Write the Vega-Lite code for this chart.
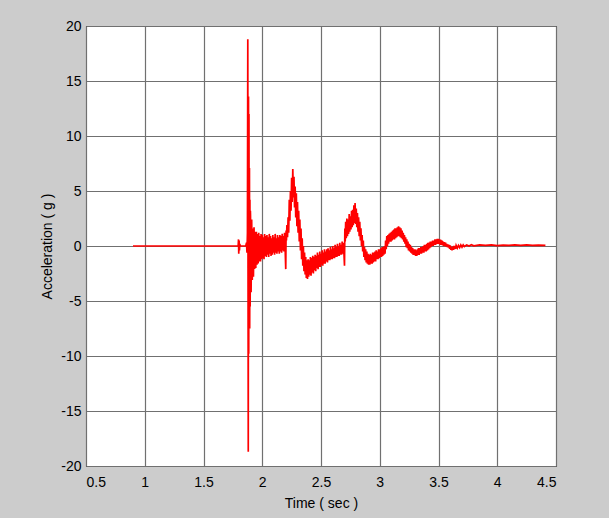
{
  "$schema": "https://vega.github.io/schema/vega-lite/v6.json",
  "width": 470,
  "height": 440,
  "autosize": {"type": "none"},
  "padding": {"left": 86, "top": 26, "right": 53, "bottom": 52},
  "background": "#cccccc",
  "config": {
    "view": {"fill": "white", "stroke": "black", "strokeWidth": 1},
    "font": "Liberation Sans",
    "axis": {
      "labelFont": "Liberation Sans",
      "titleFont": "Liberation Sans",
      "labelFontSize": 14,
      "titleFontSize": 14,
      "labelColor": "black",
      "titleColor": "black",
      "titleFontWeight": "normal",
      "ticks": false,
      "domain": false,
      "gridColor": "#707070",
      "gridWidth": 1.2,
      "gridOpacity": 1
    }
  },
  "data": {"values": [
    {"t":0.9,"a":0},{"t":1.79,"a":0},{"t":1.795,"a":0},{"t":1.798,"a":0.6},{"t":1.8,"a":-0.7},{"t":1.803,"a":0.5},{"t":1.806,"a":-0.4},{"t":1.809,"a":0.2},{"t":1.812,"a":0},{"t":1.86,"a":0},{"t":1.866,"a":0.3},{"t":1.87,"a":-0.6},{"t":1.874,"a":1.2},{"t":1.877,"a":18.8},{"t":1.879,"a":-2},{"t":1.881,"a":-18.7},{"t":1.883,"a":13.6},{"t":1.885,"a":-9.8},{"t":1.887,"a":12},{"t":1.889,"a":-6.8},{"t":1.891,"a":7.1},{"t":1.893,"a":-7.5},{"t":1.895,"a":4.2},{"t":1.897,"a":-5.5},{"t":1.899,"a":3.2},
    {"t":1.9,"a":2.8},{"t":1.905,"a":-4.2},{"t":1.91,"a":2.4},{"t":1.915,"a":-3.1},{"t":1.92,"a":1.6},{"t":1.925,"a":-2.8},{"t":1.93,"a":1.7},{"t":1.935,"a":-2.1},{"t":1.94,"a":1.3},{"t":1.945,"a":-2.0},{"t":1.95,"a":1.3},{"t":1.955,"a":-1.7},{"t":1.96,"a":1.1},{"t":1.965,"a":-1.6},{"t":1.97,"a":1.2},{"t":1.975,"a":-1.4},{"t":1.98,"a":0.9},{"t":1.985,"a":-1.4},{"t":1.99,"a":1.1},{"t":1.995,"a":-1.2},
    {"t":2.0,"a":1.0},{"t":2.005,"a":-1.1},{"t":2.01,"a":0.8},{"t":2.015,"a":-1.2},{"t":2.02,"a":1.1},{"t":2.025,"a":-0.9},{"t":2.03,"a":0.9},{"t":2.035,"a":-1.0},{"t":2.04,"a":1.0},{"t":2.045,"a":-0.8},{"t":2.05,"a":0.8},{"t":2.055,"a":-1.0},{"t":2.06,"a":1.1},{"t":2.065,"a":-0.7},{"t":2.07,"a":0.9},{"t":2.075,"a":-0.9},{"t":2.08,"a":0.7},{"t":2.085,"a":-0.8},{"t":2.09,"a":1.0},{"t":2.095,"a":-0.6},
    {"t":2.1,"a":0.8},{"t":2.105,"a":-0.8},{"t":2.11,"a":1.1},{"t":2.115,"a":-0.6},{"t":2.12,"a":0.7},{"t":2.125,"a":-0.7},{"t":2.13,"a":1.0},{"t":2.135,"a":-0.5},{"t":2.14,"a":0.8},{"t":2.145,"a":-0.7},{"t":2.15,"a":1.0},{"t":2.155,"a":-0.5},{"t":2.16,"a":0.9},{"t":2.165,"a":-0.6},{"t":2.17,"a":1.1},{"t":2.175,"a":-0.4},{"t":2.18,"a":0.9},{"t":2.185,"a":-0.5},{"t":2.19,"a":1.2},{"t":2.195,"a":-0.3},
    {"t":2.2,"a":-2.1},{"t":2.203,"a":1.4},{"t":2.206,"a":0.5},{"t":2.21,"a":1.9},{"t":2.215,"a":0.8},{"t":2.22,"a":2.6},{"t":2.225,"a":1.2},{"t":2.23,"a":4.2},{"t":2.235,"a":2.3},{"t":2.24,"a":5.0},{"t":2.245,"a":3.2},{"t":2.25,"a":6.2},{"t":2.255,"a":4.0},{"t":2.26,"a":7.0},{"t":2.265,"a":4.4},{"t":2.27,"a":6.3},{"t":2.275,"a":3.5},{"t":2.28,"a":5.4},{"t":2.285,"a":2.6},{"t":2.29,"a":4.8},{"t":2.295,"a":1.8},
    {"t":2.3,"a":4.0},{"t":2.305,"a":1.2},{"t":2.31,"a":3.2},{"t":2.315,"a":0.4},{"t":2.32,"a":2.4},{"t":2.325,"a":-0.4},{"t":2.33,"a":1.6},{"t":2.335,"a":-1.2},{"t":2.34,"a":0.7},{"t":2.345,"a":-1.8},{"t":2.35,"a":0.0},{"t":2.355,"a":-2.3},{"t":2.36,"a":-0.6},{"t":2.365,"a":-2.6},{"t":2.37,"a":-1.0},{"t":2.375,"a":-2.9},{"t":2.38,"a":-1.3},{"t":2.385,"a":-3.0},{"t":2.39,"a":-1.2},{"t":2.395,"a":-2.8},
    {"t":2.4,"a":-1.3},{"t":2.405,"a":-2.6},{"t":2.41,"a":-1.0},{"t":2.415,"a":-2.7},{"t":2.42,"a":-1.1},{"t":2.425,"a":-2.4},{"t":2.43,"a":-0.9},{"t":2.435,"a":-2.5},{"t":2.44,"a":-1.0},{"t":2.445,"a":-2.2},{"t":2.45,"a":-0.8},{"t":2.455,"a":-2.3},{"t":2.46,"a":-0.9},{"t":2.465,"a":-2.0},{"t":2.47,"a":-0.6},{"t":2.475,"a":-2.1},{"t":2.48,"a":-0.8},{"t":2.485,"a":-1.9},{"t":2.49,"a":-0.5},{"t":2.495,"a":-1.9},
    {"t":2.5,"a":-0.7},{"t":2.505,"a":-1.7},{"t":2.51,"a":-0.4},{"t":2.515,"a":-1.8},{"t":2.52,"a":-0.6},{"t":2.525,"a":-1.6},{"t":2.53,"a":-0.3},{"t":2.535,"a":-1.6},{"t":2.54,"a":-0.5},{"t":2.545,"a":-1.4},{"t":2.55,"a":-0.3},{"t":2.555,"a":-1.5},{"t":2.56,"a":-0.2},{"t":2.565,"a":-1.3},{"t":2.57,"a":-0.4},{"t":2.575,"a":-1.3},{"t":2.58,"a":-0.1},{"t":2.585,"a":-1.2},{"t":2.59,"a":-0.3},{"t":2.595,"a":-1.2},
    {"t":2.6,"a":0.0},{"t":2.605,"a":-1.1},{"t":2.61,"a":-0.2},{"t":2.615,"a":-1.1},{"t":2.62,"a":0.1},{"t":2.625,"a":-1.0},{"t":2.63,"a":-0.1},{"t":2.635,"a":-1.0},{"t":2.64,"a":0.2},{"t":2.645,"a":-0.9},{"t":2.65,"a":0.0},{"t":2.655,"a":-0.9},{"t":2.66,"a":0.3},{"t":2.665,"a":-0.8},{"t":2.67,"a":0.1},{"t":2.675,"a":-0.8},{"t":2.68,"a":0.4},{"t":2.685,"a":-0.7},{"t":2.69,"a":0.3},{"t":2.695,"a":-0.6},
    {"t":2.7,"a":-1.8},{"t":2.703,"a":1.6},{"t":2.706,"a":0.4},{"t":2.71,"a":2.2},{"t":2.715,"a":0.7},{"t":2.72,"a":2.5},{"t":2.725,"a":0.9},{"t":2.73,"a":2.4},{"t":2.735,"a":1.1},{"t":2.74,"a":2.9},{"t":2.745,"a":1.3},{"t":2.75,"a":2.7},{"t":2.755,"a":1.5},{"t":2.76,"a":3.2},{"t":2.765,"a":1.7},{"t":2.77,"a":3.3},{"t":2.775,"a":1.9},{"t":2.78,"a":3.7},{"t":2.785,"a":2.1},{"t":2.79,"a":3.9},{"t":2.795,"a":2.0},
    {"t":2.8,"a":3.4},{"t":2.805,"a":1.7},{"t":2.81,"a":3.0},{"t":2.815,"a":1.3},{"t":2.82,"a":2.6},{"t":2.825,"a":0.9},{"t":2.83,"a":2.2},{"t":2.835,"a":0.5},{"t":2.84,"a":1.6},{"t":2.845,"a":0.0},{"t":2.85,"a":1.0},{"t":2.855,"a":-0.5},{"t":2.86,"a":0.5},{"t":2.865,"a":-1.0},{"t":2.87,"a":-0.1},{"t":2.875,"a":-1.3},{"t":2.88,"a":-0.3},{"t":2.885,"a":-1.5},{"t":2.89,"a":-0.5},{"t":2.895,"a":-1.6},
    {"t":2.9,"a":-0.7},{"t":2.905,"a":-1.7},{"t":2.91,"a":-0.8},{"t":2.915,"a":-1.7},{"t":2.92,"a":-0.7},{"t":2.925,"a":-1.6},{"t":2.93,"a":-0.8},{"t":2.935,"a":-1.6},{"t":2.94,"a":-0.6},{"t":2.945,"a":-1.5},{"t":2.95,"a":-0.6},{"t":2.955,"a":-1.4},{"t":2.96,"a":-0.5},{"t":2.965,"a":-1.4},{"t":2.97,"a":-0.4},{"t":2.975,"a":-1.2},{"t":2.98,"a":-0.5},{"t":2.985,"a":-1.2},{"t":2.99,"a":-0.3},{"t":2.995,"a":-1.1},
    {"t":3.0,"a":-0.3},{"t":3.005,"a":-1.0},{"t":3.01,"a":-0.2},{"t":3.015,"a":-1.0},{"t":3.02,"a":-0.1},{"t":3.025,"a":-0.9},{"t":3.03,"a":-0.1},{"t":3.035,"a":-0.8},{"t":3.04,"a":0.0},{"t":3.045,"a":-0.7},{"t":3.05,"a":0.5},{"t":3.055,"a":-0.3},{"t":3.06,"a":0.9},{"t":3.065,"a":0.0},{"t":3.07,"a":1.0},{"t":3.075,"a":0.2},{"t":3.08,"a":1.1},{"t":3.085,"a":0.4},{"t":3.09,"a":1.2},{"t":3.095,"a":0.4},
    {"t":3.1,"a":1.3},{"t":3.105,"a":0.5},{"t":3.11,"a":1.4},{"t":3.115,"a":0.6},{"t":3.12,"a":1.5},{"t":3.125,"a":0.6},{"t":3.13,"a":1.6},{"t":3.135,"a":0.7},{"t":3.14,"a":1.6},{"t":3.145,"a":0.8},{"t":3.15,"a":1.7},{"t":3.155,"a":0.9},{"t":3.16,"a":1.8},{"t":3.165,"a":0.9},{"t":3.17,"a":1.7},{"t":3.175,"a":0.8},{"t":3.18,"a":1.6},{"t":3.185,"a":0.7},{"t":3.19,"a":1.4},{"t":3.195,"a":0.6},
    {"t":3.2,"a":1.2},{"t":3.205,"a":0.4},{"t":3.21,"a":1.0},{"t":3.215,"a":0.2},{"t":3.22,"a":0.8},{"t":3.225,"a":-0.1},{"t":3.23,"a":0.6},{"t":3.235,"a":-0.2},{"t":3.24,"a":0.4},{"t":3.245,"a":-0.4},{"t":3.25,"a":0.2},{"t":3.255,"a":-0.5},{"t":3.26,"a":0.1},{"t":3.265,"a":-0.6},{"t":3.27,"a":-0.1},{"t":3.275,"a":-0.7},{"t":3.28,"a":-0.2},{"t":3.285,"a":-0.8},{"t":3.29,"a":-0.3},{"t":3.295,"a":-0.8},
    {"t":3.3,"a":-0.3},{"t":3.305,"a":-0.9},{"t":3.31,"a":-0.4},{"t":3.315,"a":-0.9},{"t":3.32,"a":-0.3},{"t":3.325,"a":-0.8},{"t":3.33,"a":-0.2},{"t":3.335,"a":-0.8},{"t":3.34,"a":-0.2},{"t":3.345,"a":-0.7},{"t":3.35,"a":-0.1},{"t":3.355,"a":-0.7},{"t":3.36,"a":-0.1},{"t":3.365,"a":-0.6},{"t":3.37,"a":0.0},{"t":3.375,"a":-0.6},{"t":3.38,"a":0.1},{"t":3.385,"a":-0.5},{"t":3.39,"a":0.1},{"t":3.395,"a":-0.5},
    {"t":3.4,"a":0.2},{"t":3.405,"a":-0.4},{"t":3.41,"a":0.3},{"t":3.415,"a":-0.3},{"t":3.42,"a":0.3},{"t":3.425,"a":-0.2},{"t":3.43,"a":0.4},{"t":3.435,"a":-0.1},{"t":3.44,"a":0.4},{"t":3.445,"a":0.0},{"t":3.45,"a":0.5},{"t":3.455,"a":0.0},{"t":3.46,"a":0.5},{"t":3.465,"a":0.1},{"t":3.47,"a":0.6},{"t":3.475,"a":0.1},{"t":3.48,"a":0.6},{"t":3.485,"a":0.2},{"t":3.49,"a":0.65},{"t":3.495,"a":0.2},
    {"t":3.5,"a":0.65},{"t":3.505,"a":0.2},{"t":3.51,"a":0.6},{"t":3.515,"a":0.1},{"t":3.52,"a":0.55},{"t":3.525,"a":0.1},{"t":3.53,"a":0.5},{"t":3.535,"a":0.05},{"t":3.54,"a":0.4},{"t":3.545,"a":0.0},{"t":3.55,"a":0.35},{"t":3.555,"a":0.0},{"t":3.56,"a":0.3},{"t":3.565,"a":-0.05},{"t":3.57,"a":0.2},{"t":3.575,"a":-0.1},{"t":3.58,"a":0.15},{"t":3.585,"a":-0.15},{"t":3.59,"a":0.1},{"t":3.595,"a":-0.25},
    {"t":3.6,"a":0.05},{"t":3.605,"a":-0.35},{"t":3.61,"a":-0.1},{"t":3.615,"a":-0.4},{"t":3.62,"a":-0.05},{"t":3.625,"a":-0.35},{"t":3.63,"a":0.0},{"t":3.635,"a":-0.3},{"t":3.64,"a":0.0},{"t":3.645,"a":-0.25},{"t":3.65,"a":0.05},{"t":3.66,"a":-0.2},{"t":3.67,"a":0.05},{"t":3.68,"a":-0.15},{"t":3.69,"a":0.1},{"t":3.7,"a":-0.1},{"t":3.71,"a":0.1},{"t":3.72,"a":-0.05},{"t":3.74,"a":0.1},{"t":3.76,"a":0.0},{"t":3.78,"a":0.12},{"t":3.8,"a":0.02},
    {"t":3.85,"a":0.1},{"t":3.9,"a":0.05},{"t":3.95,"a":0.1},{"t":4.0,"a":0.03},{"t":4.05,"a":0.08},{"t":4.1,"a":0.05},{"t":4.15,"a":0.1},{"t":4.2,"a":0.05},{"t":4.25,"a":0.1},{"t":4.3,"a":0.05},{"t":4.35,"a":0.08},{"t":4.41,"a":0.05}
  ]},
  "mark": {"type": "line", "color": "#ff0000", "strokeWidth": 1.7, "clip": true},
  "encoding": {
    "x": {
      "field": "t",
      "type": "quantitative",
      "sort": null,
      "scale": {"domain": [0.5, 4.5], "nice": false, "zero": false},
      "axis": {
        "title": "Time ( sec )",
        "values": [0.5, 1, 1.5, 2, 2.5, 3, 3.5, 4, 4.5],
        "labelExpr": "'' + datum.value",
        "labelPadding": 9,
        "titlePadding": 7
      }
    },
    "y": {
      "field": "a",
      "type": "quantitative",
      "scale": {"domain": [-20, 20], "nice": false},
      "axis": {
        "title": "Acceleration ( g )",
        "values": [-20, -15, -10, -5, 0, 5, 10, 15, 20],
        "labelExpr": "'' + datum.value",
        "labelPadding": 5,
        "titlePadding": 6
      }
    }
  }
}
